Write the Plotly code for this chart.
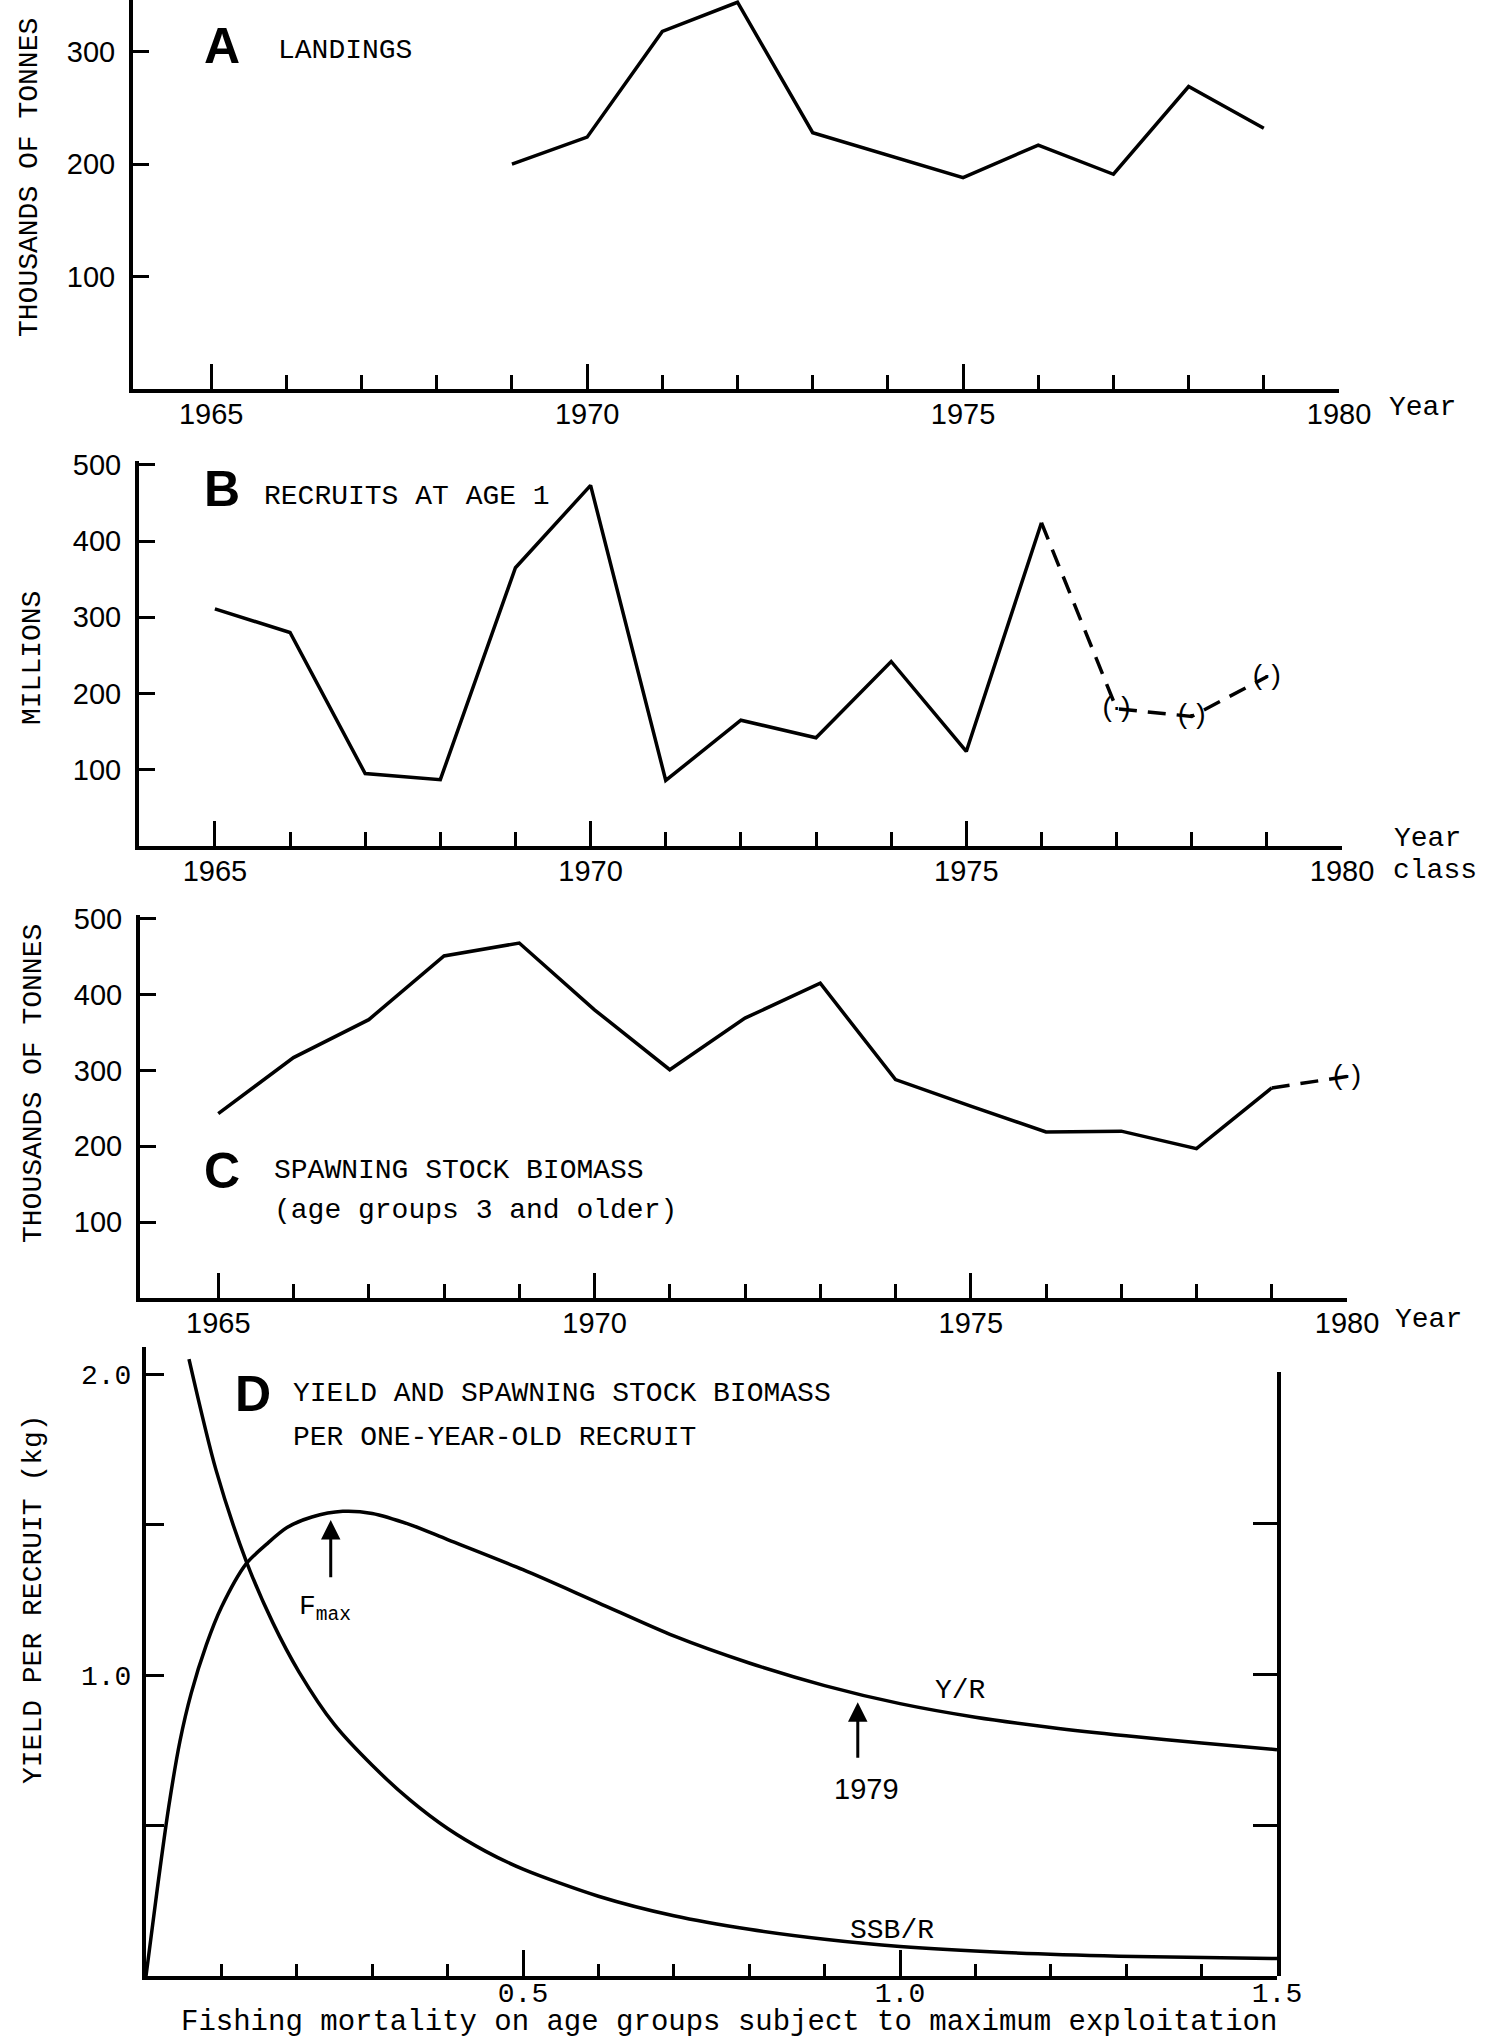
import plotly.graph_objects as go

W, H = 1496, 2042

# ---------------- data ----------------
# Panel A: landings (thousand tonnes)
landing_years = [1969, 1970, 1971, 1972, 1973, 1974, 1975, 1976, 1977, 1978, 1979]
landings = [200, 224, 318, 344, 228, 208, 188, 217, 191, 269, 232]

# Panel B: recruits at age 1 (millions)
recruit_years = [1965, 1966, 1967, 1968, 1969, 1970, 1971, 1972, 1973, 1974, 1975, 1976]
recruits = [311, 280, 95, 87, 365, 473, 86, 165, 142, 242, 124, 424]
recruit_est_years = [1976, 1977, 1978, 1979]
recruits_est = [424, 180, 170, 222]

# Panel C: spawning stock biomass (thousand tonnes)
ssb_years = [1965, 1966, 1967, 1968, 1969, 1970, 1971, 1972, 1973, 1974, 1975, 1976, 1977, 1978, 1979]
ssb = [243, 317, 367, 451, 468, 380, 301, 369, 415, 288, 253, 219, 220, 197, 277]
ssb_est_years = [1979, 1980]
ssb_est = [277, 292]

# Panel D: yield and SSB per recruit (kg) vs fishing mortality
F_yr = [0, 0.015, 0.03, 0.045, 0.06, 0.08, 0.1, 0.133, 0.16, 0.187, 0.22, 0.261, 0.3,
        0.35, 0.4, 0.5, 0.6, 0.7, 0.8, 0.9, 1.0, 1.1, 1.2, 1.3, 1.4, 1.5]
YR = [0, 0.29, 0.56, 0.78, 0.94, 1.10, 1.225, 1.37, 1.435, 1.49, 1.525, 1.544, 1.537,
      1.50, 1.45, 1.35, 1.24, 1.13, 1.04, 0.965, 0.905, 0.86, 0.826, 0.798, 0.774, 0.752]
F_ssb = [0.057, 0.093, 0.133, 0.168, 0.203, 0.25, 0.3, 0.35, 0.4, 0.45, 0.5, 0.6, 0.7,
         0.8, 0.9, 1.0, 1.14, 1.29, 1.5]
SSBR = [2.05, 1.68, 1.378, 1.175, 1.01, 0.835, 0.70, 0.585, 0.49, 0.415, 0.355, 0.265,
        0.20, 0.155, 0.122, 0.098, 0.078, 0.066, 0.058]

year_ticks = [1965, 1970, 1975, 1980]
year_minor = [1966, 1967, 1968, 1969, 1971, 1972, 1973, 1974, 1976, 1977, 1978, 1979]
F_ticks = [0.5, 1.0, 1.5]
F_ticktext = ["0.5", "1.0", "1.5"]
F_minor = [0.1, 0.2, 0.3, 0.4, 0.6, 0.7, 0.8, 0.9, 1.1, 1.2, 1.3, 1.4]

# ---------------- helpers ----------------
def px(x):
    return x / W

def py(y):
    return 1 - y / H

SANS = "Liberation Sans, Arial, sans-serif"
MONO = "Liberation Mono, Courier New, monospace"
BOLD = "Liberation Sans Narrow, Liberation Sans, Arial, sans-serif"
LW = 3.5

fig = go.Figure()

line = dict(color="black", width=LW)
dash = dict(color="black", width=LW, dash="18px,11px")
est_font = dict(family=SANS, size=28, color="black")

fig.add_trace(go.Scatter(x=landing_years, y=landings, mode="lines", line=line,
                         xaxis="x", yaxis="y", hoverinfo="skip"))
fig.add_trace(go.Scatter(x=recruit_years, y=recruits, mode="lines", line=line,
                         xaxis="x2", yaxis="y2", hoverinfo="skip"))
fig.add_trace(go.Scatter(x=recruit_est_years, y=recruits_est, mode="lines", line=dash,
                         xaxis="x2", yaxis="y2", hoverinfo="skip"))
fig.add_trace(go.Scatter(x=recruit_est_years[1:], y=recruits_est[1:], mode="text",
                         text=["(·)"] * 3, textfont=est_font, cliponaxis=False,
                         xaxis="x2", yaxis="y2", hoverinfo="skip"))
fig.add_trace(go.Scatter(x=ssb_years, y=ssb, mode="lines", line=line,
                         xaxis="x3", yaxis="y3", hoverinfo="skip"))
fig.add_trace(go.Scatter(x=ssb_est_years, y=ssb_est, mode="lines", line=dash,
                         xaxis="x3", yaxis="y3", hoverinfo="skip"))
fig.add_trace(go.Scatter(x=ssb_est_years[1:], y=ssb_est[1:], mode="text",
                         text=["(·)"], textfont=est_font, cliponaxis=False,
                         xaxis="x3", yaxis="y3", hoverinfo="skip"))
# carrier for the right-hand axis of panel D (drawn first, below the curves)
fig.add_trace(go.Scatter(x=[None], y=[None], mode="lines", xaxis="x4", yaxis="y5",
                         hoverinfo="skip"))
fig.add_trace(go.Scatter(x=F_yr, y=YR, mode="lines",
                         line=dict(color="black", width=LW, shape="spline", smoothing=0.8),
                         xaxis="x4", yaxis="y4", hoverinfo="skip"))
fig.add_trace(go.Scatter(x=F_ssb, y=SSBR, mode="lines",
                         line=dict(color="black", width=LW, shape="spline", smoothing=0.8),
                         xaxis="x4", yaxis="y4", hoverinfo="skip"))

def year_axis(domain, rng, anchor):
    return dict(domain=domain, range=rng, anchor=anchor, showline=True, linecolor="black",
                linewidth=4, showgrid=False, zeroline=False, ticks="inside", ticklen=25,
                tickwidth=3, tickcolor="black", tickmode="array", tickvals=year_ticks,
                ticktext=[str(v) for v in year_ticks], ticklabelstandoff=-4,
                automargin=False,
                tickfont=dict(family=SANS, size=29, color="black"),
                minor=dict(tickmode="array", tickvals=year_minor, ticks="inside",
                           ticklen=14, tickwidth=3, tickcolor="black", showgrid=False))

def val_axis(domain, rng, anchor, vals):
    return dict(domain=domain, range=rng, anchor=anchor, showline=True, linecolor="black",
                linewidth=4, showgrid=False, zeroline=False, ticks="inside", ticklen=16,
                tickwidth=3, tickcolor="black", tickmode="array", tickvals=vals,
                ticktext=[str(v) for v in vals], ticklabelstandoff=8, automargin=False,
                tickfont=dict(family=SANS, size=29, color="black"))

layout = dict(
    template="none",
    width=W, height=H, margin=dict(l=0, r=0, t=0, b=0, pad=0), autosize=False,
    paper_bgcolor="white", plot_bgcolor="rgba(0,0,0,0)", showlegend=False,
    xaxis=year_axis([px(133), px(1339)], [1963.96, 1980], "y"),
    yaxis=val_axis([py(389), 1.0], [0, 346], "x", [100, 200, 300]),
    xaxis2=year_axis([px(139), px(1342)], [1963.99, 1980], "y2"),
    yaxis2=val_axis([py(846), py(461)], [0, 505], "x2", [100, 200, 300, 400, 500]),
    xaxis3=year_axis([px(140), px(1347)], [1963.96, 1980], "y3"),
    yaxis3=val_axis([py(1298), py(915)], [0, 505], "x3", [100, 200, 300, 400, 500]),
    xaxis4=dict(domain=[px(146), px(1277)], range=[0, 1.5], anchor="y4", showline=True,
                linecolor="black", linewidth=4, showgrid=False, zeroline=False,
                ticks="inside", ticklen=26, tickwidth=3, tickcolor="black",
                tickmode="array", tickvals=F_ticks, ticktext=F_ticktext,
                ticklabelstandoff=-12, automargin=False,
                tickfont=dict(family=MONO, size=28, color="black"),
                minor=dict(tickmode="array", tickvals=F_minor, ticks="inside", ticklen=12,
                           tickwidth=3, tickcolor="black", showgrid=False)),
    yaxis4=dict(domain=[py(1976), py(1347)], range=[0, 2.09], anchor="x4", showline=True,
                linecolor="black", linewidth=4, showgrid=False, zeroline=False,
                ticks="inside", ticklen=18, tickwidth=3, tickcolor="black",
                tickmode="array", tickvals=[0.5, 1.0, 1.5, 2.0],
                ticktext=["", "1.0", "", "2.0"], ticklabelstandoff=5, automargin=False,
                tickfont=dict(family=MONO, size=28, color="black")),
    yaxis5=dict(domain=[py(1976), py(1372)], range=[0, 2.0], anchor="x4", side="right",
                showline=True, linecolor="black", linewidth=4, showgrid=False,
                zeroline=False, ticks="inside", ticklen=24, tickwidth=3,
                tickcolor="black", tickmode="array", tickvals=[0.5, 1.0, 1.5, 2.0],
                showticklabels=False, automargin=False),
)
fig.update_layout(**layout)

ann = []

def text(x, y, s, family=MONO, size=28, xanchor="center", angle=0):
    ann.append(dict(x=px(x), y=py(y), xref="paper", yref="paper", text=s, showarrow=False,
                    xanchor=xanchor, yanchor="middle", textangle=angle,
                    font=dict(family=family, size=size, color="black")))

def letter(x, y, s):
    ann.append(dict(x=px(x), y=py(y), xref="paper", yref="paper", text="<b>" + s + "</b>",
                    showarrow=False, xanchor="center", yanchor="middle",
                    font=dict(family=BOLD, size=50, color="black")))

# Panel A
letter(222, 46, "A")
text(276, 50, "LANDINGS", xanchor="left")
text(29, 178, "THOUSANDS OF TONNES", angle=-90)
text(1422, 407, "Year")
# Panel B
letter(222, 489, "B")
text(262, 497, "RECRUITS AT AGE 1", xanchor="left")
text(33, 658, "MILLIONS", angle=-90)
text(1427, 838, "Year")
text(1435, 870, "class")
# Panel C
letter(222, 1171, "C")
text(272, 1170, "SPAWNING STOCK BIOMASS", xanchor="left")
text(272, 1210, "(age groups 3 and older)", xanchor="left")
text(33, 1084, "THOUSANDS OF TONNES", angle=-90)
text(1428, 1319, "Year")
# Panel D
letter(253, 1394, "D")
text(291, 1393, "YIELD AND SPAWNING STOCK BIOMASS", xanchor="left")
text(291, 1437, "PER ONE-YEAR-OLD RECRUIT", xanchor="left")
text(33, 1599, "YIELD PER RECRUIT (kg)", angle=-90)
text(729, 2022, "Fishing mortality on age groups subject to maximum exploitation", size=29)

for (xx, yy, s, fam, sz) in [(0.238, 1.22, "F<sub>max</sub>", MONO, 28),
                             (0.955, 0.62, "1979", SANS, 29),
                             (1.08, 0.95, "Y/R", MONO, 28),
                             (0.99, 0.15, "SSB/R", MONO, 28)]:
    ann.append(dict(x=xx, y=yy, xref="x4", yref="y4", text=s, showarrow=False,
                    xanchor="center", yanchor="middle",
                    font=dict(family=fam, size=sz, color="black")))

# arrows (Fmax and 1979)
for (xh, yh, yt) in [(0.245, 1.515, 1.32), (0.944, 0.91, 0.72)]:
    ann.append(dict(x=xh, y=yh, ax=xh, ay=yt, xref="x4", yref="y4", axref="x4", ayref="y4",
                    text="", showarrow=True, arrowhead=2, arrowsize=1.3, arrowwidth=3,
                    arrowcolor="black", standoff=0, startstandoff=0))

fig.update_layout(annotations=ann)

fig.write_html("out.html", config={"displayModeBar": False, "staticPlot": True},
               post_script="document.body.style.margin='0px';")
